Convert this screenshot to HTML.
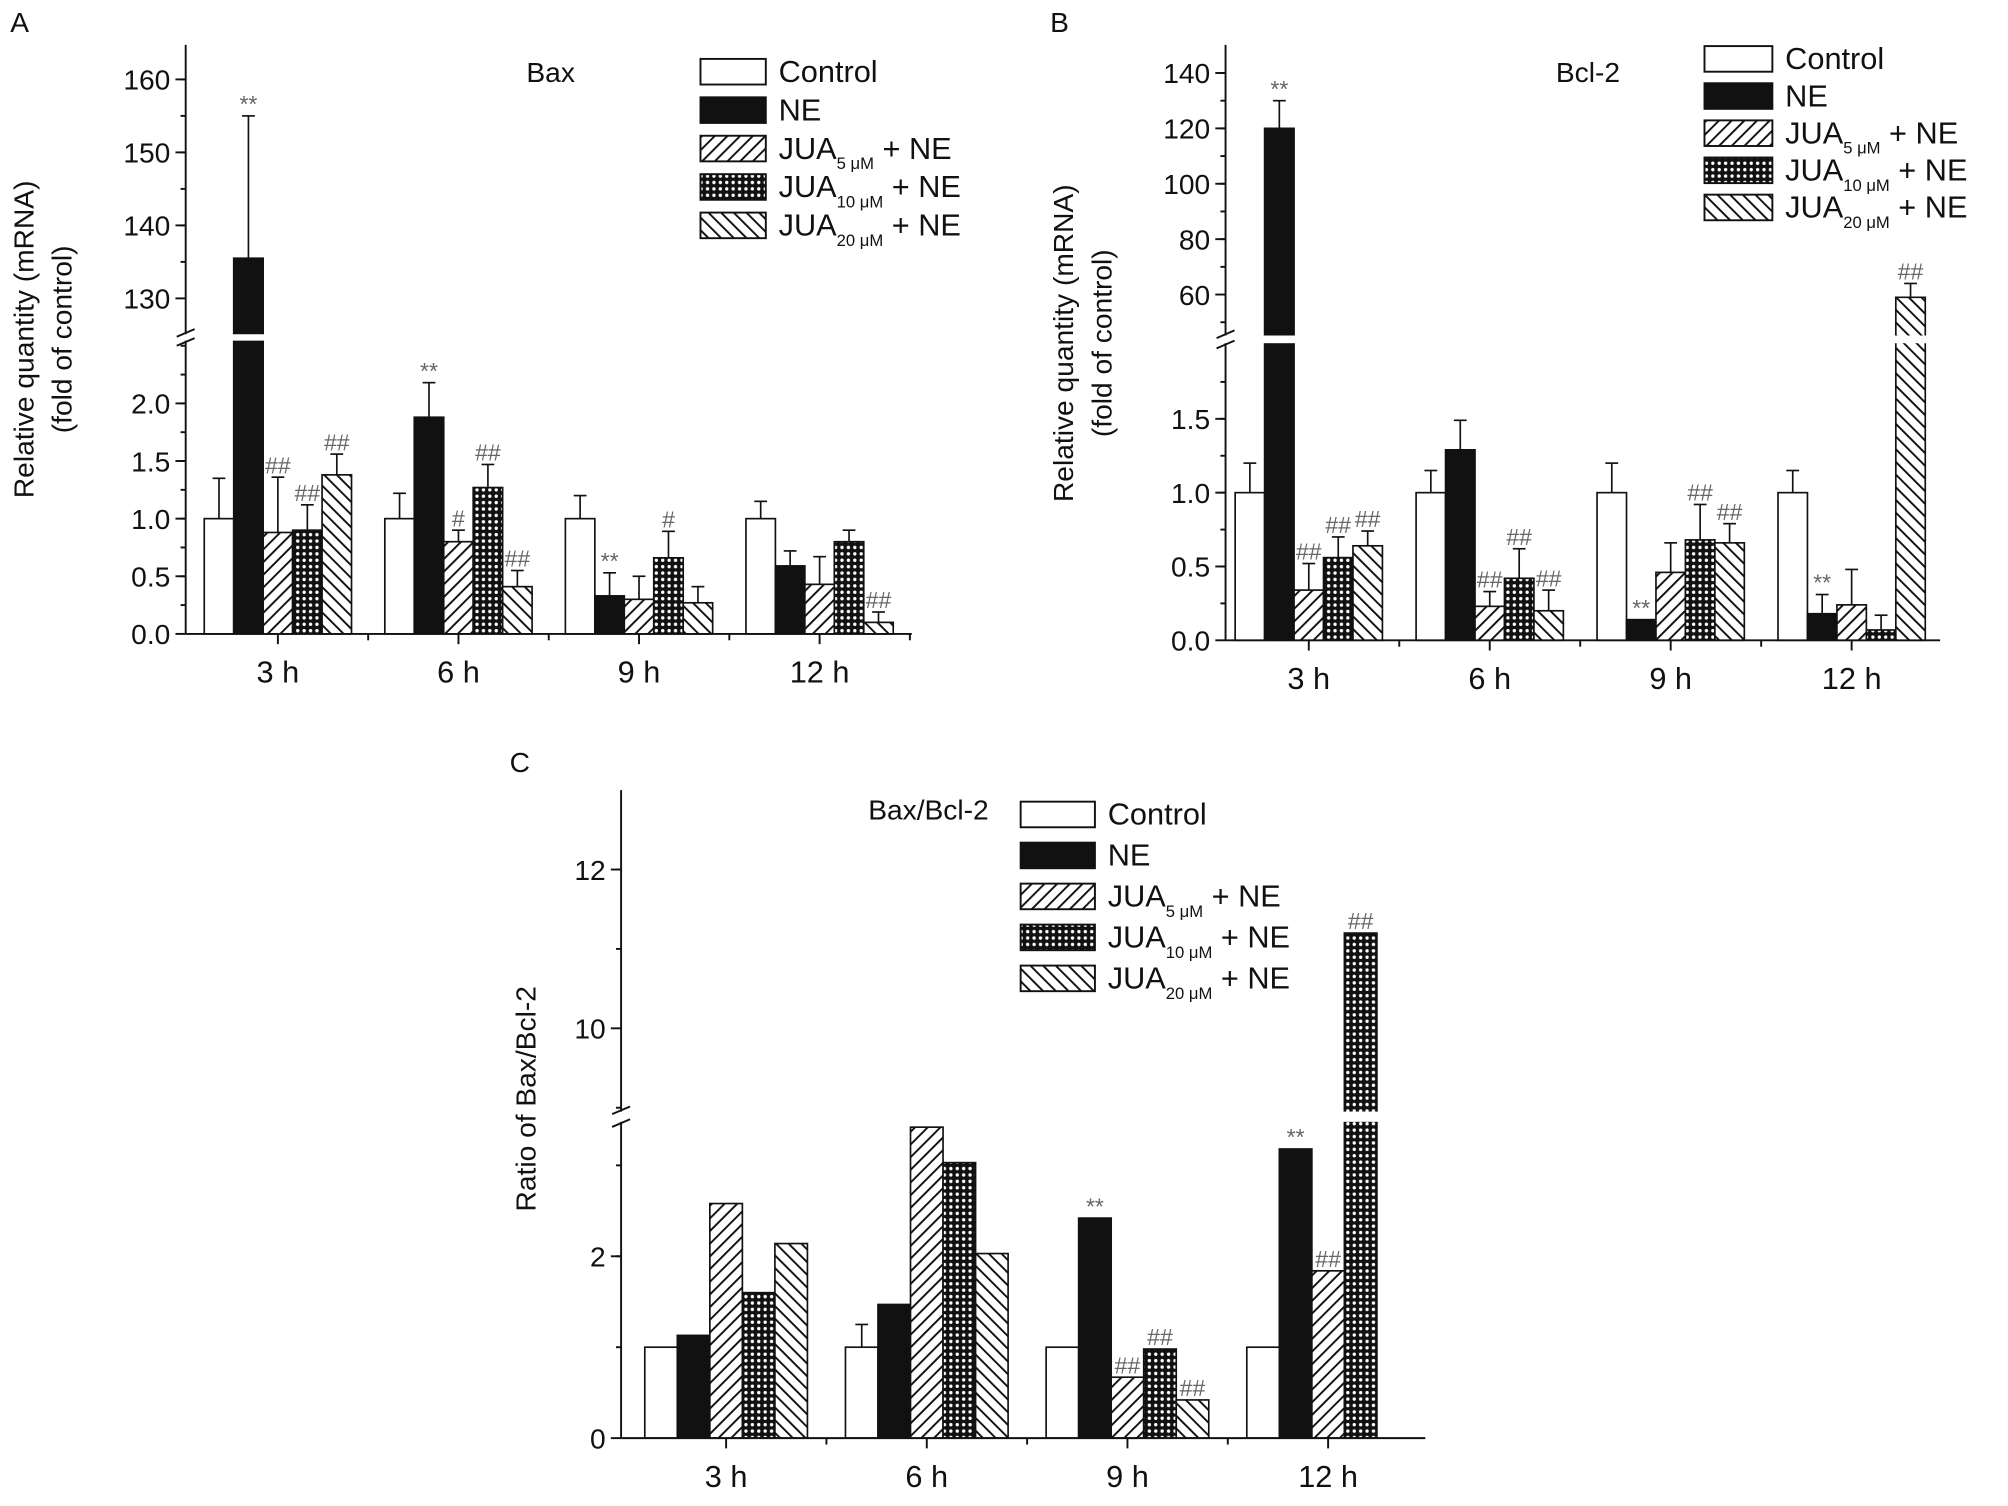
<!DOCTYPE html>
<html><head><meta charset="utf-8"><style>
html,body{margin:0;padding:0;background:#fff}
svg{display:block}
text{font-family:"Liberation Sans",Arial,sans-serif;fill:#111}
</style></head><body>
<svg id="fig" width="2008" height="1506" viewBox="0 0 1568 1176" xmlns="http://www.w3.org/2000/svg">
<defs>
<pattern id="p5" patternUnits="userSpaceOnUse" width="7" height="7" patternTransform="rotate(45)"><rect width="7" height="7" fill="#fff"/><line x1="0" y1="0" x2="0" y2="7" stroke="#111" stroke-width="3"/></pattern>
<pattern id="p10" patternUnits="userSpaceOnUse" width="5" height="5"><rect width="5" height="5" fill="#111"/><circle cx="2.5" cy="2.5" r="1.3" fill="#fff"/></pattern>
<pattern id="p20" patternUnits="userSpaceOnUse" width="7" height="7" patternTransform="rotate(-45)"><rect width="7" height="7" fill="#fff"/><line x1="0" y1="0" x2="0" y2="7" stroke="#111" stroke-width="3"/></pattern>
</defs>
</svg>
<script>
// ---- data ----
const groups = ["3 h","6 h","9 h","12 h"];
const seriesNames = ["Control","NE","JUA5","JUA10","JUA20"];
// Panel A (Bax)
const baxControl = [1,1,1,1];
const baxNE = [135.5,1.88,0.33,0.59];
const baxJUA5 = [0.88,0.80,0.30,0.43];
const baxJUA10 = [0.90,1.27,0.66,0.80];
const baxJUA20 = [1.38,0.41,0.27,0.10];
const baxErrControl = [0.35,0.22,0.20,0.15];
const baxErrNE = [19.5,0.30,0.20,0.13];
const baxErrJUA5 = [0.48,0.10,0.20,0.24];
const baxErrJUA10 = [0.22,0.20,0.23,0.10];
const baxErrJUA20 = [0.18,0.14,0.14,0.09];
const baxMarks = [["","**","##","##","##"],["","**","#","##","##"],["","**","","#",""],["","","","","##"]];
const baxLowTicks = [0,0.5,1.0,1.5,2.0];
const baxUpTicks = [130,140,150,160];
// Panel B (Bcl-2)
const bclControl = [1,1,1,1];
const bclNE = [120,1.29,0.14,0.18];
const bclJUA5 = [0.34,0.23,0.46,0.24];
const bclJUA10 = [0.56,0.42,0.68,0.07];
const bclJUA20 = [0.64,0.20,0.66,59];
const bclErrControl = [0.20,0.15,0.20,0.15];
const bclErrNE = [10,0.20,0,0.13];
const bclErrJUA5 = [0.18,0.10,0.20,0.24];
const bclErrJUA10 = [0.14,0.20,0.24,0.10];
const bclErrJUA20 = [0.10,0.14,0.13,5];
const bclMarks = [["","**","##","##","##"],["","","##","##","##"],["","**","","##","##"],["","**","","","##"]];
const bclLowTicks = [0,0.5,1.0,1.5];
const bclUpTicks = [60,80,100,120,140];
// Panel C (ratio)
const ratControl = [1,1,1,1];
const ratNE = [1.13,1.47,2.42,3.18];
const ratJUA5 = [2.58,3.42,0.67,1.84];
const ratJUA10 = [1.60,3.03,0.98,11.2];
const ratJUA20 = [2.14,2.03,0.42,null];
const ratErrControl = [0,0.25,0,0];
const ratMarks = [["","","","",""],["","","","",""],["","**","##","##","##"],["","**","##","##",""]];
const ratLowTicks = [0,2];
const ratUpTicks = [10,12];

const NS="http://www.w3.org/2000/svg";
const svg=document.getElementById('fig');
function mk(tag,attrs,parent){const e=document.createElementNS(NS,tag);for(const k in attrs)e.setAttribute(k,attrs[k]);(parent||svg).appendChild(e);return e;}
const fills=["#fff","#111","url(#p5)","url(#p10)","url(#p20)"];

function panel(c){
  const g=mk('g',{});
  
  
  const lowTopV=(c.y0-c.lowTop)/c.kl;
  const yL=v=>c.y0-v*c.kl;
  const yU=v=>c.uRefY-(v-c.uRef)*c.ku;
  const xC=i=>c.xg0+i*c.gs;
  // bars
  for(let i=0;i<groups.length;i++){
    for(let s=0;s<5;s++){
      const v=c.vals[s][i]; if(v==null) continue;
      const x=xC(i)+(s-2.5)*c.bw;
      let topY;
      if(v<=lowTopV){
        topY=yL(v);
        const r=mk('rect',{x:x,y:topY,width:c.bw,height:c.y0-topY,fill:fills[s],stroke:'#111','stroke-width':1.3},g);
        
        
      } else {
        topY=yU(v);
        const r1=mk('rect',{x:x,y:c.lowTop,width:c.bw,height:c.y0-c.lowTop,fill:fills[s],stroke:'none'},g);
        
        
        mk('path',{d:`M${x},${c.lowTop}V${c.y0}H${x+c.bw}V${c.lowTop}`,fill:'none',stroke:'#111','stroke-width':1.3},g);
        const r2=mk('rect',{x:x,y:topY,width:c.bw,height:c.upBot-topY,fill:fills[s],stroke:'none'},g);
        
        
        mk('path',{d:`M${x},${c.upBot}V${topY}H${x+c.bw}V${c.upBot}`,fill:'none',stroke:'#111','stroke-width':1.3},g);
      }
      const e=c.errs[s]?c.errs[s][i]:0;
      let markY=topY;
      if(e>0){
        const ey=v<=lowTopV?yL(v+e):yU(v+e);
        const cx=x+c.bw/2;
        mk('line',{x1:cx,y1:topY,x2:cx,y2:ey,stroke:'#111','stroke-width':1.3},g);
        mk('line',{x1:cx-5,y1:ey,x2:cx+5,y2:ey,stroke:'#111','stroke-width':1.3},g);
        markY=ey;
      }
      const m=c.marks[i][s];
      if(m){const t=mk('text',{x:x+c.bw/2,y:markY-3,'font-size':18,'text-anchor':'middle',fill:'#555'},g);t.textContent=m;t.style.fill='#666';
        
        }
    }
  }
  // axes
  mk('line',{x1:c.xa,y1:c.y0,x2:c.xa,y2:c.lowTop,stroke:'#111','stroke-width':1.5},g);
  mk('line',{x1:c.xa,y1:c.upBot,x2:c.xa,y2:c.top,stroke:'#111','stroke-width':1.5},g);
  mk('line',{x1:c.xa-7,y1:c.lowTop+4,x2:c.xa+7,y2:c.lowTop-2,stroke:'#111','stroke-width':1.5},g);
  mk('line',{x1:c.xa-7,y1:c.upBot+2,x2:c.xa+7,y2:c.upBot-4,stroke:'#111','stroke-width':1.5},g);
  mk('line',{x1:c.xa,y1:c.y0,x2:c.xe,y2:c.y0,stroke:'#111','stroke-width':1.5},g);
  const tick=(y,len)=>mk('line',{x1:c.xa-len,y1:y,x2:c.xa,y2:y,stroke:'#111','stroke-width':1.5},g);
  c.lowTicks.forEach((v,k)=>{tick(yL(v),8);const t=mk('text',{x:c.xa-12,y:yL(v)+8,'font-size':22,'text-anchor':'end'},g);t.textContent=c.fmt(v);
    });
  for(let v=c.lowMinor;yL(v)>c.lowTop+3;v+=c.lowMinor){tick(yL(v),4);}
  c.upTicks.forEach(v=>{tick(yU(v),8);const t=mk('text',{x:c.xa-12,y:yU(v)+8,'font-size':22,'text-anchor':'end'},g);t.textContent=v;
    });
  for(let v=c.upTicks[0]-c.upMinor;yU(v)<c.upBot-2;v-=c.upMinor){tick(yU(v),4);}
  for(let v=c.upTicks[0]+c.upMinor;yU(v)>c.top+2;v+=c.upMinor){tick(yU(v),4);}
  groups.forEach((lab,i)=>{
    mk('line',{x1:xC(i),y1:c.y0,x2:xC(i),y2:c.y0+8,stroke:'#111','stroke-width':1.5},g);
    const b=xC(i)+c.gs/2; if(b<c.xe) mk('line',{x1:b,y1:c.y0,x2:b,y2:c.y0+5,stroke:'#111','stroke-width':1.5},g);
    const t=mk('text',{x:xC(i),y:c.y0+38,'font-size':24,'text-anchor':'middle'},g);t.textContent=lab;
    
  });
  // legend
  const labs=[["Control",""],["NE",""],["JUA","5 μM"],["JUA","10 μM"],["JUA","20 μM"]];
  labs.forEach((l,k)=>{
    const y=c.lgY+k*c.lgS;
    const r=mk('rect',{x:c.lgX,y:y,width:c.lgW,height:20,fill:fills[k],stroke:'#111','stroke-width':1.5},g);
    
    const t=mk('text',{x:c.lgX+c.lgW+10,y:y+18,'font-size':24},g);
    
    if(l[1]){t.innerHTML=`JUA<tspan font-size="13" dy="8">${l[1]}</tspan><tspan dy="-8"> + NE</tspan>`;}
    else t.textContent=l[0];
  });
  const tt=mk('text',{x:c.titleX,y:c.titleY,'font-size':22,'text-anchor':'middle'},g);tt.textContent=c.title;
  
  const pl=mk('text',{x:c.plX,y:c.plY,'font-size':22},g);pl.textContent=c.letter;
  
  c.yt.forEach(([txt,x])=>{const t=mk('text',{x:x,y:c.ytY,'font-size':22,'text-anchor':'middle',transform:`rotate(-90 ${x} ${c.ytY})`},g);t.textContent=txt;
    });
}
const f1=v=>v.toFixed(1);
panel({name:'panel-a-bax',letter:'A',plX:8,plY:25,title:'Bax',titleX:430,titleY:64,
  vals:[baxControl,baxNE,baxJUA5,baxJUA10,baxJUA20],errs:[baxErrControl,baxErrNE,baxErrJUA5,baxErrJUA10,baxErrJUA20],marks:baxMarks,
  y0:495,kl:90,lowTop:266,uRef:130,uRefY:233,ku:5.7,upBot:261,top:35,xa:145,xe:712,xg0:217,gs:141,bw:23,
  lowTicks:baxLowTicks,lowMinor:0.25,upTicks:baxUpTicks,upMinor:5,fmt:f1,
  lgX:547,lgY:46,lgS:30,lgW:51,yt:[["Relative quantity (mRNA)",26],["(fold of control)",56]],ytY:265});
panel({name:'panel-b-bcl2',letter:'B',plX:820,plY:25,title:'Bcl-2',titleX:1240,titleY:64,
  vals:[bclControl,bclNE,bclJUA5,bclJUA10,bclJUA20],errs:[bclErrControl,bclErrNE,bclErrJUA5,bclErrJUA10,bclErrJUA20],marks:bclMarks,
  y0:500,kl:115.3,lowTop:268,uRef:60,uRefY:230,ku:2.1625,upBot:262,top:35,xa:957,xe:1515,xg0:1022,gs:141.3,bw:23,
  lowTicks:bclLowTicks,lowMinor:0.25,upTicks:bclUpTicks,upMinor:10,fmt:f1,
  lgX:1331,lgY:36,lgS:29,lgW:53,yt:[["Relative quantity (mRNA)",838],["(fold of control)",868]],ytY:268});
panel({name:'panel-c-ratio',letter:'C',plX:398,plY:603,title:'Bax/Bcl-2',titleX:725,titleY:640,
  vals:[ratControl,ratNE,ratJUA5,ratJUA10,ratJUA20],errs:[ratErrControl,null,null,null,null],marks:ratMarks,
  y0:1123,kl:71,lowTop:876,uRef:10,uRefY:803,ku:62,upBot:868,top:617,xa:485,xe:1113,xg0:567,gs:156.7,bw:25.4,
  lowTicks:ratLowTicks,lowMinor:1,upTicks:ratUpTicks,upMinor:1,fmt:v=>String(v),
  lgX:797,lgY:626,lgS:32,lgW:58,yt:[["Ratio of Bax/Bcl-2",418]],ytY:858});
</script>
</body></html>
